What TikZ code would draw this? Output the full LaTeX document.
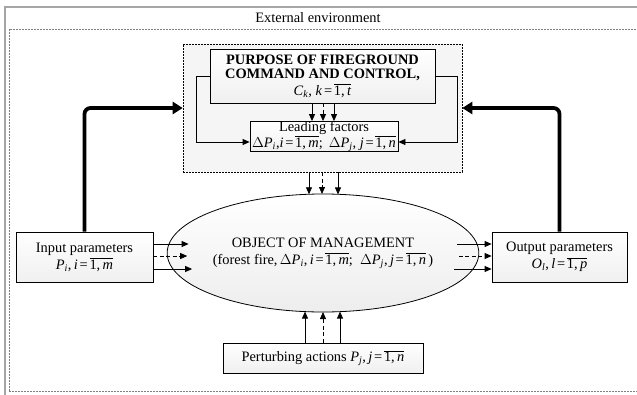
\documentclass[tikz,border=0pt]{standalone}
\usepackage{fontspec}
\setmainfont{Liberation Serif}
\usetikzlibrary{arrows.meta,calc,shapes.geometric}
\newcommand{\ovl}[1]{$\overline{\hbox{#1}}$}
\newcommand{\sbi}[1]{\textsubscript{\textit{#1}}}
\newcommand{\eqs}{\hspace{0.12em}=\hspace{0.12em}}
\begin{document}
\begin{tikzpicture}[x=1pt,y=-1pt, font=\fontsize{14.4}{15}\selectfont,
 box/.style={draw, line width=0.8pt, top color=white, bottom color=gray!12, inner sep=0pt, align=center},
 arr/.style={line width=0.8pt, -{Triangle[length=7pt,width=6pt]}},
 darr/.style={arr, dash pattern=on 4pt off 2.5pt},
 thickarr/.style={line width=3.8pt, rounded corners=6pt, -{Triangle[length=10pt,width=12pt]}}]
\useasboundingbox (0,0) rectangle (637,394);
\begin{scope}
\clip (0,0) rectangle (637,394);
\draw[gray!70, line width=1.4pt] (5,420) -- (5,7) -- (660,7);
\draw[gray, line width=0.8pt, dash pattern=on 2pt off 1pt] (9,391) -- (9,29) -- (660,29) (9,391) -- (660,391);
\end{scope}
\node (ext) at (318,18) {External environment};

% control area
\node[draw, line width=0.6pt, dash pattern=on 2pt off 1pt, fill=gray!8, minimum width=279, minimum height=128] (ctrl) at (322.5,108) {};
\node[box, minimum width=225, minimum height=54] (purp) at (322.5,76)
 {\textbf{PURPOSE OF FIREGROUND}\\[-1pt] \textbf{COMMAND AND CONTROL,}\\[2pt] \textit{C}\sbi{k}, \textit{k}\eqs\ovl{1,\,\textit{t}}};
\node[box, minimum width=148, minimum height=27, font=\fontsize{14.4}{12.6}\selectfont] (lead) at (324,136.5)
 {Leading factors\\ $\Delta$\textit{P}\sbi{i},\textit{i}\eqs\ovl{1,\,\textit{m}};\ \,$\Delta$\textit{P}\sbi{j}, \textit{j}\eqs\ovl{1,\,\textit{n}}};

% object
\node[ellipse, draw, line width=0.8pt, top color=white, bottom color=gray!14, minimum width=272, minimum height=118, inner sep=0pt, align=center] (obj) at (323,253)
 {OBJECT OF MANAGEMENT\\[2pt] (forest fire,\,$\Delta$\textit{P}\sbi{i},\,\textit{i}\eqs\ovl{1,\,\textit{m}};\ \ $\Delta$\textit{P}\sbi{j},\,\textit{j}\eqs\ovl{1,\,\textit{n}}\,)};

\node[box, minimum width=137, minimum height=50] (inp) at (84.5,257)
 {Input parameters\\[2pt] \textit{P}\sbi{i},\,\textit{i}\eqs\ovl{1,\,\textit{m}}};
\node[box, minimum width=135, minimum height=50] (out) at (559.5,257)
 {Output parameters\\[2pt] \textit{O}\sbi{l},\,\textit{l}\eqs\ovl{1,\,\textit{p}}};
\node[box, minimum width=200, minimum height=30] (pert) at (323,358)
 {Perturbing actions \textit{P}\sbi{j},\,\textit{j}\eqs\ovl{1,\,\textit{n}}};

% thick feedback arrows
\draw[thickarr] (inp.north) |- (ctrl.west);
\draw[thickarr] (out.north) |- (ctrl.east);

% thin loops
\draw[arr] (purp.west) -- ++(-13,0) |- ($(lead.west)+(0,5.5)$);
\draw[arr] (purp.east) -- ++(22,0) |- ($(lead.east)+(0,5.5)$);

% purpose -> leading
\draw[arr] (purp.south -| 312,0) -- (lead.north -| 312,0);
\draw[darr] (purp.south -| 323,0) -- (lead.north -| 323,0);
\draw[arr] (purp.south -| 334,0) -- (lead.north -| 334,0);

% control -> object
\draw[arr] (ctrl.south -| 309,0) -- ($(obj.center)+(-14,-58.7)$);
\draw[darr] (ctrl.south -| 322,0) -- ($(obj.center)+(-1,-59)$);
\draw[arr] (ctrl.south -| 338,0) -- ($(obj.center)+(15,-58.6)$);

% perturbing -> object
\draw[arr] (pert.north -| 305,0) -- ($(obj.center)+(-18,58.6)$);
\draw[darr] (pert.north -| 323,0) -- ($(obj.center)+(0,59)$);
\draw[arr] (pert.north -| 340,0) -- ($(obj.center)+(17,58.6)$);

% input -> object
\draw[arr] ($(inp.east)+(0,-13)$) -- ($(obj.center)+(-134.4,-9)$);
\draw[darr] ($(inp.east)+(0,-1)$) -- ($(obj.center)+(-135.8,3)$);
\draw[arr] ($(inp.east)+(0,12)$) -- ($(obj.center)+(-130.9,16)$);

% object -> output
\draw[arr] ($(obj.center)+(134.4,-9)$) -- ($(out.west)+(0,-13)$);
\draw[darr] ($(obj.center)+(135.8,3)$) -- ($(out.west)+(0,-1)$);
\draw[arr] ($(obj.center)+(130.9,16)$) -- ($(out.west)+(0,12)$);
\end{tikzpicture}
\end{document}
